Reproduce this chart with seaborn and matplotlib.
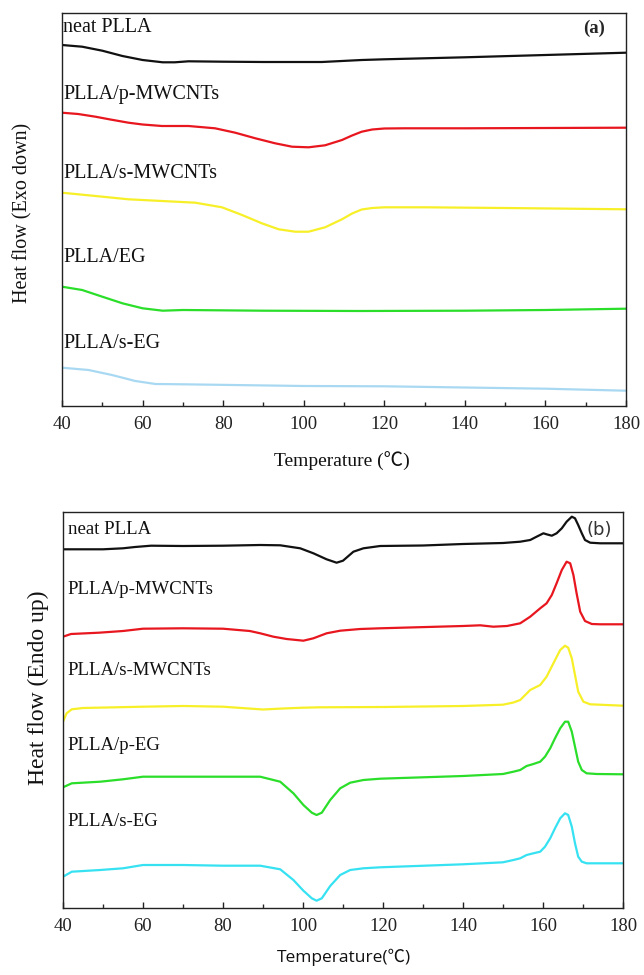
import numpy as np
import pandas as pd
import matplotlib
matplotlib.use("Agg")
import matplotlib.pyplot as plt
import seaborn as sns
from matplotlib.ticker import MultipleLocator

# ---------------- data (heat flow in arbitrary, offset units) ----------------
# Panel (a): cooling scans
a_names = ["neat PLLA", "PLLA/p-MWCNTs", "PLLA/s-MWCNTs", "PLLA/EG", "PLLA/s-EG"]
a_colors = ["#111111", "#e8161e", "#f7f028", "#2ade2a", "#a9d9f2"]

a_T_neat = [40, 45, 50, 55, 60, 65, 68, 71.4, 80, 90, 104.5, 114.4, 120, 140, 160, 180]
a_H_neat = [361, 359.3, 355.3, 350, 346, 343.7, 343.7, 344.7, 344.3, 344, 344, 346, 346.7, 348.7, 351, 353.3]

a_T_pmw = [40, 44, 48.3, 52, 56.5, 60, 64.8, 71.4, 78, 83, 88, 92.9, 97.1, 101.2, 105.3, 109.5, 112,
           114.4, 117, 120, 125, 140, 160, 180]
a_H_pmw = [293.3, 292, 289.3, 286.5, 283.3, 281.5, 280, 280, 277.7, 273.3, 267.7, 262.7, 259.3, 258.7,
           260.7, 266, 270.5, 274.3, 276.5, 277.5, 277.7, 277.7, 278, 278.3]

a_T_smw = [40, 48.3, 56.5, 64.8, 73.1, 79.7, 84.7, 89.6, 93.8, 97.9, 101.2, 105.3, 109.5, 112, 114.4,
           117, 120, 130, 150, 180]
a_H_smw = [213.3, 210, 206.7, 205, 203.3, 198.7, 191, 182.7, 176.7, 174.3, 174.3, 178.7, 186.7, 192.5,
           196.5, 198, 198.7, 198.7, 198, 196.7]

a_T_eg = [40, 45, 50, 55, 60, 65, 70, 90, 114, 140, 160, 180]
a_H_eg = [119.3, 116, 109.3, 102.7, 97.7, 95.3, 96, 95.3, 95, 95.3, 96, 97.3]

a_T_seg = [40, 46.6, 52.4, 58.2, 63.2, 70, 100, 120, 140, 160, 180]
a_H_seg = [38.3, 36, 31, 25, 22, 21.7, 20, 19.7, 18.5, 17.3, 15.3]

a_label_H = [378, 311, 233, 148, 63]

# Panel (b): second heating scans
b_names = ["neat PLLA", "PLLA/p-MWCNTs", "PLLA/s-MWCNTs", "PLLA/p-EG", "PLLA/s-EG"]
b_colors = ["#111111", "#e8161e", "#f7f028", "#2ade2a", "#36e2f2"]

b_T_neat = [40, 50, 55, 58, 62, 70, 80, 89.3, 94.3, 99.3, 102.6, 105.9, 108.4, 110, 112.6, 115.1, 119.3,
            130, 140, 150, 154.3, 156.8, 158.4, 160.1, 160.9, 162.2, 163.4, 164.7, 165.9, 167.2, 168,
            168.8, 169.7, 170.5, 171.8, 174.3, 180]
b_H_neat = [358.7, 358.7, 359.7, 361, 362.3, 362, 362.3, 363, 362.7, 359.7, 354.7, 348.7, 345.3, 347.3,
            356.3, 359.7, 362, 362.5, 364, 365, 366.3, 368, 371.3, 374.7, 373.7, 372.3, 374.7, 379.7,
            386.3, 391.3, 389.7, 383, 374.7, 368, 365.3, 364.7, 364.7]

b_T_pmw = [40, 42, 49, 55, 60, 70, 80, 86.7, 89.3, 92.6, 95.9, 100.1, 102.6, 105.9, 109.3, 114.3, 119.3,
           140, 144.3, 147.6, 151, 154.3, 156.8, 159.3, 160.9, 162.2, 163.4, 164.7, 165.9, 166.8, 167.6,
           168.4, 169.3, 170.5, 172.2, 174.3, 180]
b_H_pmw = [271.3, 274, 275.3, 277, 279.3, 279.7, 279.3, 277, 274.7, 271.3, 269, 267.3, 269.7, 274.7,
           277.3, 279, 279.7, 282, 282.7, 281.3, 282, 284.7, 291.3, 299.7, 304.7, 313, 324.7, 338, 346.3,
           344.7, 333, 314.7, 296.3, 287, 284, 283.7, 283.7]

b_T_smw = [40, 40.9, 42.2, 45, 60, 70, 80, 90, 95, 100, 104.3, 120, 140, 150, 152.6, 154.3, 156.8, 159.3,
           160.9, 162.6, 164.3, 165.5, 166.3, 167.2, 168, 168.8, 170.1, 171.8, 180]
b_H_smw = [186.3, 194.7, 198.7, 200, 201.3, 202, 201.3, 198.5, 199.5, 200.3, 200.7, 201, 202, 203.3,
           205.5, 208, 218, 223, 231.3, 244.7, 258, 262.3, 260.3, 249.7, 233, 216.3, 206.3, 203.7, 202.3]

b_T_eg = [40, 42.2, 49.3, 55, 60, 70, 80, 89.3, 94.3, 97.6, 100.1, 102.2, 103.4, 104.7, 106.8, 109.3,
          111.8, 115.1, 119.3, 140, 150, 152.6, 154.3, 155.9, 157.6, 159.3, 160.5, 161.8, 163, 164.3,
          165.5, 166.3, 167.2, 168, 168.8, 169.7, 170.9, 173.4, 180]
b_H_peg = [120.7, 124.7, 126.3, 128.7, 131.3, 131.3, 131.3, 131.3, 126.3, 114.7, 103, 95.3, 93, 95.3,
           108, 119.7, 125.3, 128, 129.3, 132, 134, 136.3, 138, 142, 144, 146.3, 151.3, 159.7, 169.7,
           179.7, 186.3, 186.3, 176.3, 161.3, 146.3, 138, 134.7, 134, 133.7]
b_H_seg = [31.3, 36.3, 38, 39.7, 43, 43, 42.3, 42.3, 38.7, 28, 17.3, 9.7, 7.3, 9.7, 22, 33, 38, 39.7,
           40.7, 43.7, 45.7, 48, 49.7, 53, 54.7, 56.3, 61.3, 69.7, 79.7, 89.7, 94.7, 93, 81.3, 64.7, 51.3,
           46.3, 44.7, 44.7, 44.7]

b_label_H = [378, 318.7, 237.3, 163, 86.3]

x_ticks = [40, 60, 80, 100, 120, 140, 160, 180]

# ---------------- build tidy tables ----------------
def tidy(names, Ts, Hs):
    frames = []
    for n, t, h in zip(names, Ts, Hs):
        frames.append(pd.DataFrame({"T": t, "H": h, "sample": n}))
    return pd.concat(frames, ignore_index=True)

df_a = tidy(a_names, [a_T_neat, a_T_pmw, a_T_smw, a_T_eg, a_T_seg],
            [a_H_neat, a_H_pmw, a_H_smw, a_H_eg, a_H_seg])
df_b = tidy(b_names, [b_T_neat, b_T_pmw, b_T_smw, b_T_eg, b_T_eg],
            [b_H_neat, b_H_pmw, b_H_smw, b_H_peg, b_H_seg])

# ---------------- style ----------------
sns.set_style("ticks")
plt.rcParams["font.family"] = ["Liberation Serif", "Noto Sans CJK SC", "DejaVu Sans"]
plt.rcParams["axes.linewidth"] = 1.0
plt.rcParams["axes.edgecolor"] = "#222222"
plt.rcParams["lines.solid_joinstyle"] = "round"
plt.rcParams["lines.solid_capstyle"] = "round"

fig = plt.figure(figsize=(6.44, 9.75), dpi=100)
ax1 = fig.add_axes([62 / 644, 1 - 406 / 975, 564 / 644, 393 / 975])
ax2 = fig.add_axes([63 / 644, 1 - 908 / 975, 560 / 644, 396 / 975])

sns.lineplot(data=df_a, x="T", y="H", hue="sample", palette=dict(zip(a_names, a_colors)),
             estimator=None, sort=False, lw=1.6, legend=False, ax=ax1)
sns.lineplot(data=df_b, x="T", y="H", hue="sample", palette=dict(zip(b_names, b_colors)),
             estimator=None, sort=False, lw=1.6, legend=False, ax=ax2)

for ax in (ax1, ax2):
    ax.set_xlim(40, 180)
    ax.xaxis.set_major_locator(MultipleLocator(20))
    ax.xaxis.set_minor_locator(MultipleLocator(10))
    ax.tick_params(axis="x", which="major", direction="in", length=4.5, width=1.0, pad=7,
                   labelsize=13.5, colors="#222222")
    ax.tick_params(axis="x", which="minor", direction="in", length=3, width=1.0)
    ax.set_yticks([])
    ax.set_xticks(x_ticks)
    ax.set_xticklabels([str(v) for v in x_ticks])
    for s in ax.spines.values():
        s.set_visible(True)
        s.set_color("#222222")

ax1.set_ylim(0, 393)
ax2.set_ylim(0, 396)

# labels of curves
for name, yv in zip(a_names, a_label_H):
    ax1.text(40.3, yv, name, fontsize=14.5, va="center", ha="left", color="#111111")
for name, yv in zip(b_names, b_label_H):
    ax2.text(41.2, yv, name, fontsize=13.5, va="center", ha="left", color="#111111")

ax1.text(0.962, 0.96, "(a)", transform=ax1.transAxes, fontsize=13.5, fontweight="bold",
         ha="right", va="center")
ax2.text(0.98, 0.955, "(b)", transform=ax2.transAxes, fontsize=13, ha="right", va="center",
         family=["DejaVu Sans"], color="#333333")

ax1.set_xlabel("Temperature (℃)", fontsize=14, color="#111111")
ax1.xaxis.set_label_coords(0.496, -0.118)
ax1.set_ylabel("Heat flow (Exo down)", fontsize=14.5, color="#111111")
ax1.yaxis.set_label_coords(-0.053, 0.49)

ax2.set_xlabel("Temperature(℃)", fontsize=12.5, family=["Open Sans", "Noto Sans CJK SC"],
               color="#111111")
ax2.xaxis.set_label_coords(0.502, -0.104)
ax2.set_ylabel("Heat flow (Endo up)", fontsize=17, color="#111111")
ax2.yaxis.set_label_coords(-0.025, 0.556)

fig.savefig("out.png", dpi=100)
